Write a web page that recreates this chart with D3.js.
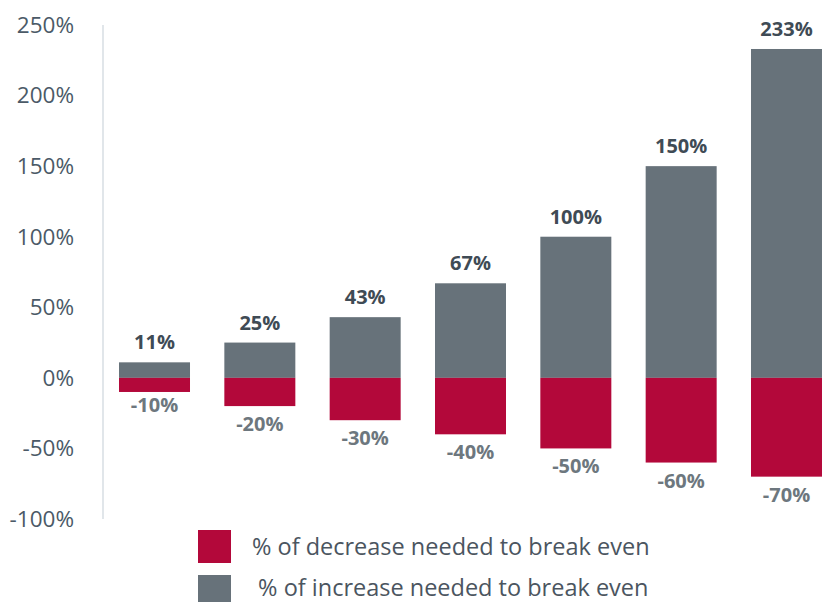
<!DOCTYPE html>
<html lang="en">
  <head>
    <meta charset="UTF-8" />
    <title>Break even chart</title>
    <script src="https://d3js.org/d3.v7.min.js"></script>
    <style>
      body {
        margin: 0;
        background: #ffffff;
        font-family: "Open Sans", sans-serif;
      }
    </style>
  </head>
  <body>
    <script>
      // Data
      const categories = ["A", "B", "C", "D", "E", "F", "G"];
      const decrease = [-10, -20, -30, -40, -50, -60, -70];
      const increase = [11, 25, 43, 67, 100, 150, 233];
      const yTicks = [250, 200, 150, 100, 50, 0, -50, -100];
      const legendLabels = [
        "% of decrease needed to break even",
        " % of increase needed to break even",
      ];

      const red = "#b3083a";
      const gray = "#67727a";

      const width = 824;
      const height = 602;
      const svg = d3
        .select("body")
        .append("svg")
        .attr("width", width)
        .attr("height", height);

      const y = d3.scaleLinear().domain([-100, 250]).range([519, 25]);
      const x = d3
        .scaleBand()
        .domain(categories)
        .range([103, 838])
        .paddingInner(0.326)
        .paddingOuter(0.152);

      // vertical axis line
      svg
        .append("line")
        .attr("x1", 103)
        .attr("x2", 103)
        .attr("y1", y(250))
        .attr("y2", y(-100))
        .attr("stroke", "#e1e6ea")
        .attr("stroke-width", 2);

      // tick labels
      svg
        .selectAll(".tick")
        .data(yTicks)
        .enter()
        .append("text")
        .attr("x", 74)
        .attr("y", (d) => y(d))
        .attr("dy", "0.35em")
        .attr("text-anchor", "end")
        .attr("font-size", 22.5)
        .attr("fill", "#4b5a67")
        .text((d) => d + "%");

      // increase bars
      svg
        .selectAll(".inc")
        .data(increase)
        .enter()
        .append("rect")
        .attr("x", (d, i) => x(categories[i]))
        .attr("width", x.bandwidth())
        .attr("y", (d) => y(d))
        .attr("height", (d) => y(0) - y(d))
        .attr("fill", gray);

      // decrease bars
      svg
        .selectAll(".dec")
        .data(decrease)
        .enter()
        .append("rect")
        .attr("x", (d, i) => x(categories[i]))
        .attr("width", x.bandwidth())
        .attr("y", y(0))
        .attr("height", (d) => y(d) - y(0))
        .attr("fill", red);

      // value labels
      svg
        .selectAll(".incLabel")
        .data(increase)
        .enter()
        .append("text")
        .attr("x", (d, i) => x(categories[i]) + x.bandwidth() / 2)
        .attr("y", (d) => y(d) - 13)
        .attr("text-anchor", "middle")
        .attr("font-size", 20)
        .attr("font-weight", "bold")
        .attr("fill", "#3f4b55")
        .text((d) => d + "%");

      svg
        .selectAll(".decLabel")
        .data(decrease)
        .enter()
        .append("text")
        .attr("x", (d, i) => x(categories[i]) + x.bandwidth() / 2)
        .attr("y", (d, i) => y(d) + (i === 0 ? 20 : 25))
        .attr("text-anchor", "middle")
        .attr("font-size", 20)
        .attr("font-weight", "bold")
        .attr("fill", "#6d777e")
        .text((d) => d + "%");

      // legend
      const legend = svg
        .selectAll(".legend")
        .data(legendLabels)
        .enter()
        .append("g")
        .attr("transform", (d, i) => `translate(198, ${530 + i * 45})`);

      legend
        .append("rect")
        .attr("width", 33)
        .attr("height", 33)
        .attr("fill", (d, i) => (i === 0 ? red : gray));

      legend
        .append("text")
        .attr("x", 54)
        .attr("y", (d, i) => (i === 0 ? 17 : 13))
        .attr("dy", "0.35em")
        .attr("font-size", 23.5)
        .attr("fill", "#4b5560")
        .attr("xml:space", "preserve")
        .style("white-space", "pre")
        .text((d) => d);
    </script>
  </body>
</html>
